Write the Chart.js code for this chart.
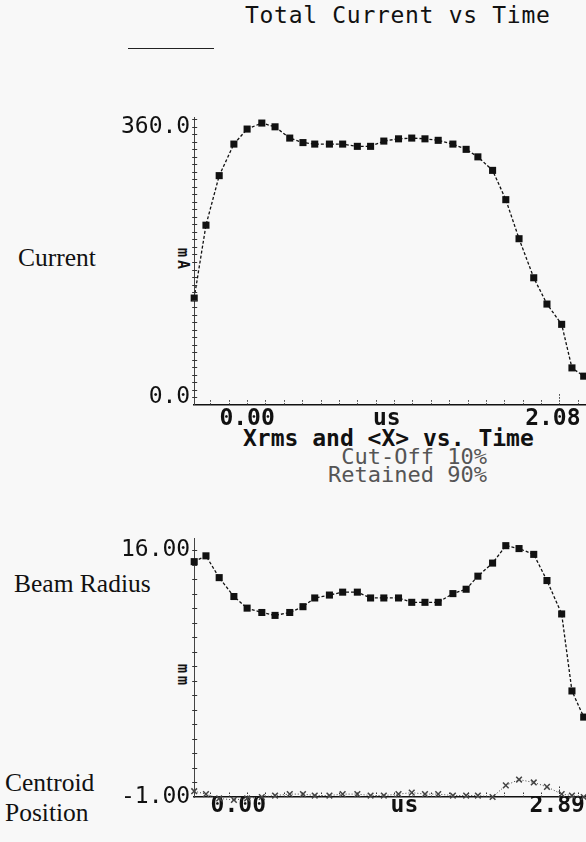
<!DOCTYPE html>
<html><head><meta charset="utf-8">
<script src="https://cdn.jsdelivr.net/npm/chart.js@4.4.0/dist/chart.umd.min.js"></script>
<style>
html,body{margin:0;padding:0;background:#f8f8f8;width:586px;height:842px;overflow:hidden;position:relative;}
.t{position:absolute;white-space:nowrap;color:#111;line-height:1;transform:translateY(-50%);}
.mono{font-family:'DejaVu Sans Mono',monospace;font-size:23px;}
.serif{font-family:'Liberation Serif','Times New Roman',serif;font-size:25.5px;}
.rot{font-family:'DejaVu Sans Mono',monospace;font-size:15px;font-weight:bold;letter-spacing:3px;transform-origin:0 50%;transform:translateY(-50%) rotate(90deg);}
canvas{position:absolute;left:0;}
</style></head><body>
<div class="t mono" style="left:245px;top:15px;letter-spacing:0.7px;">Total Current vs Time</div>
<div style="position:absolute;left:128px;top:48px;width:86px;border-top:1.5px solid #222;"></div>
<div class="t serif" style="left:18px;top:258px;">Current</div>
<div class="t rot" style="left:182px;top:248px;">mA</div>
<div class="t mono" style="left:243px;top:438px;font-weight:bold;">Xrms and &lt;X&gt; vs. Time</div>
<div class="t mono" style="right:99px;top:457px;font-size:22px;color:#555;">Cut-Off 10%</div>
<div class="t mono" style="right:99px;top:475px;font-size:22px;color:#555;">Retained 90%</div>
<div class="t serif" style="left:14px;top:584px;">Beam Radius</div>
<div class="t rot" style="left:182px;top:664px;">mm</div>
<div class="t serif" style="left:5px;top:783px;">Centroid</div>
<div class="t serif" style="left:5px;top:813px;">Position</div>
<canvas id="c1" width="600" height="340" style="top:100px;"></canvas>
<canvas id="c2" width="600" height="342" style="top:497px;"></canvas>
<script>
// ---- data ----
const timeUs = [-0.36,-0.28,-0.19,-0.09,0.00,0.10,0.19,0.29,0.38,0.46,0.56,0.65,0.75,0.84,0.93,1.03,1.12,1.21,1.30,1.40,1.49,1.57,1.67,1.76,1.85,1.95,2.04,2.14,2.21,2.29];
const currentMA = [132,229,295,337,357,365,360,345,339,337,337,337,334,334,341,344,345,344,342,337,330,320,302,263,211,159,124,97,39,28];
const beamRadiusMM = [15.2,15.6,14.1,12.8,12.0,11.7,11.5,11.7,12.1,12.7,12.9,13.1,13.1,12.7,12.7,12.7,12.4,12.4,12.4,13.0,13.3,14.2,15.1,16.3,16.1,15.7,13.9,11.6,6.3,4.5];
const centroidMM = [-0.6,-0.8,-1.1,-1.2,-1.1,-1.0,-0.9,-0.8,-0.8,-0.9,-0.9,-0.8,-0.8,-0.9,-0.9,-0.8,-0.7,-0.8,-0.8,-0.9,-0.9,-0.9,-1.0,-0.2,0.2,0.0,-0.3,-0.8,-0.9,-1.0];

const topXTickValues = [0, 0.95, 2.08];
const topXTickLabels = ['0.00', 'us', '2.08'];
const topYTickValues = [0, 360];
const topYTickLabels = ['0.0', '360.0'];
const botXTickValues = [-0.06, 1.07, 2.11];
const botXTickLabels = ['0.00', 'us', '2.89'];
const botYTickValues = [-1, 16];
const botYTickLabels = ['-1.00', '16.00'];

const pts = (ys) => timeUs.map((t, i) => ({x: t, y: ys[i]}));

const minorTicks = {
  id: 'minorTicks',
  afterDatasetsDraw(chart, args, o) {
    const ctx = chart.ctx, xs = chart.scales.x, ys = chart.scales.y;
    ctx.save();
    ctx.strokeStyle = '#333';
    ctx.lineWidth = 1;
    ctx.setLineDash([1.5, 1.5]);
    for (let v = o.xStart; v <= xs.max; v += o.xStep) {
      const px = Math.round(xs.getPixelForValue(v)) + 0.5;
      const len = Math.abs(v - o.xMajor) < 1e-6 ? 12 : 6;
      ctx.beginPath(); ctx.moveTo(px, xs.top); ctx.lineTo(px, xs.top - len); ctx.stroke();
    }
    ctx.setLineDash([]);
    for (let v = ys.min + o.yStep; v < ys.max; v += o.yStep) {
      const py = Math.round(ys.getPixelForValue(v)) + 0.5;
      ctx.beginPath(); ctx.moveTo(ys.right - 2, py); ctx.lineTo(ys.right + 3, py); ctx.stroke();
    }
    ctx.restore();
  }
};

function build(id, cfg) {
  return new Chart(document.getElementById(id), {
    type: 'line',
    data: { datasets: cfg.datasets },
    options: {
      responsive: false, animation: false, devicePixelRatio: 1,
      layout: { padding: { top: cfg.padTop, right: 6, left: 0, bottom: 0 } },
      plugins: { legend: {display: false}, tooltip: {enabled: false}, title: {display: false}, minorTicks: cfg.minor },
      scales: {
        x: {
          type: 'linear', min: -0.36, max: 2.36,
          afterBuildTicks: s => { s.ticks = cfg.xVals.map(v => ({value: v})); },
          afterFit: s => { s.height = cfg.xAxisH; },
          ticks: { autoSkip: false, maxRotation: 0, padding: cfg.xPad, color: '#111',
                   font: {family: 'DejaVu Sans Mono', size: 23, weight: 'bold'},
                   callback: (v, i) => cfg.xLabels[i] },
          grid: { display: false, drawTicks: false },
          border: { display: true, color: '#111', width: 1.5 }
        },
        y: {
          type: 'linear', min: cfg.yMin, max: cfg.yMax,
          afterBuildTicks: s => { s.ticks = cfg.yVals.map(v => ({value: v})); },
          afterFit: s => { s.width = 194.2; },
          ticks: { autoSkip: false, padding: 4, color: '#111',
                   font: {family: 'DejaVu Sans Mono', size: 23},
                   callback: (v, i) => cfg.yLabels[i] },
          grid: { display: false, drawTicks: false },
          border: { display: true, color: '#444', width: 1, dash: [1, 3] }
        }
      }
    },
    plugins: [minorTicks]
  });
}

build('c1', {
  padTop: 10.8, xAxisH: 35.3, xPad: 1, yMin: -10, yMax: 372,
  xVals: topXTickValues, xLabels: topXTickLabels, yVals: topYTickValues, yLabels: topYTickLabels,
  minor: { xStart: -0.25, xStep: 0.125, xMajor: 2.125, yStep: 10 },
  datasets: [{
    data: pts(currentMA), borderColor: '#111', backgroundColor: '#111', borderWidth: 1.3,
    borderDash: [3, 2], pointStyle: 'rect', pointRadius: 5, pointBorderWidth: 0, tension: 0, clip: false
  }]
});

build('c2', {
  padTop: 41.4, xAxisH: 42, xPad: -5, yMin: -1, yMax: 16.8,
  xVals: botXTickValues, xLabels: botXTickLabels, yVals: botYTickValues, yLabels: botYTickLabels,
  minor: { xStart: -0.25, xStep: 0.125, xMajor: 2.125, yStep: 1 },
  datasets: [{
    data: pts(beamRadiusMM), borderColor: '#111', backgroundColor: '#111', borderWidth: 1.3,
    borderDash: [3, 2], pointStyle: 'rect', pointRadius: 5, pointBorderWidth: 0, tension: 0, clip: false
  }, {
    data: pts(centroidMM), borderColor: '#444', backgroundColor: '#444', borderWidth: 1,
    borderDash: [1, 2], pointStyle: 'crossRot', pointRadius: 4, pointBorderWidth: 1.5, tension: 0, clip: false
  }]
});
</script>
</body></html>
